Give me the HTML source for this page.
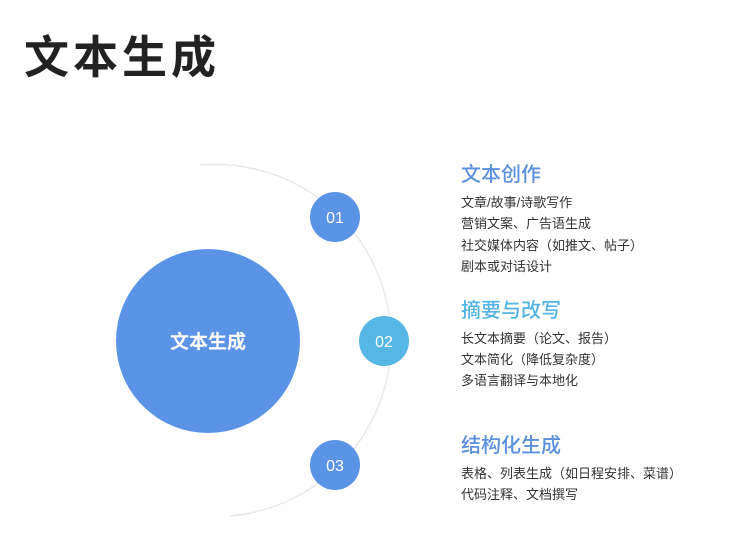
<!DOCTYPE html>
<html><head><meta charset="utf-8"><style>
body{margin:0;width:752px;height:540px;background:#fff;overflow:hidden;position:relative;font-family:"Liberation Sans","Noto Sans CJK SC",sans-serif}
.a{position:absolute;white-space:nowrap}
.t{left:24px;top:21px;font-size:45px;font-weight:bold;color:#222;letter-spacing:4px}
.h{font-size:20px;font-weight:500;left:461px}
.i{font-size:13px;color:#333;left:461px;line-height:16px}
</style></head><body>
<div class="a t">文本生成</div>
<svg class="a" style="left:0;top:0" width="752" height="540">
<path d="M200 165 A176 176 0 0 1 230 516" fill="none" stroke="#e8e8e8" stroke-width="1.5"/>
<circle cx="208" cy="341" r="92" fill="#5b93e6"/>
<text x="208" y="348" font-size="19" font-weight="bold" fill="#fff" text-anchor="middle" font-family="Liberation Sans,Noto Sans CJK SC,sans-serif">文本生成</text>
<circle cx="335" cy="217" r="25" fill="#5b93e6"/>
<circle cx="384" cy="341" r="25" fill="#56b6e6"/>
<circle cx="335" cy="465" r="25" fill="#5b93e6"/>
<g font-size="16" fill="#fff" text-anchor="middle" font-family="Liberation Sans,sans-serif">
<text x="335" y="223">01</text><text x="384" y="347">02</text><text x="335" y="471">03</text></g>
</svg>
<div class="a h" style="top:158px;color:#5b8fe0">文本创作</div>
<div class="a i" style="top:195px">文章/故事/诗歌写作</div>
<div class="a i" style="top:216px">营销文案、广告语生成</div>
<div class="a i" style="top:238px">社交媒体内容（如推文、帖子）</div>
<div class="a i" style="top:259px">剧本或对话设计</div>
<div class="a h" style="top:294px;color:#55b4e4">摘要与改写</div>
<div class="a i" style="top:331px">长文本摘要（论文、报告）</div>
<div class="a i" style="top:352px">文本简化（降低复杂度）</div>
<div class="a i" style="top:373px">多语言翻译与本地化</div>
<div class="a h" style="top:429px;color:#5b8fe0">结构化生成</div>
<div class="a i" style="top:466px">表格、列表生成（如日程安排、菜谱）</div>
<div class="a i" style="top:487px">代码注释、文档撰写</div>
</body></html>
